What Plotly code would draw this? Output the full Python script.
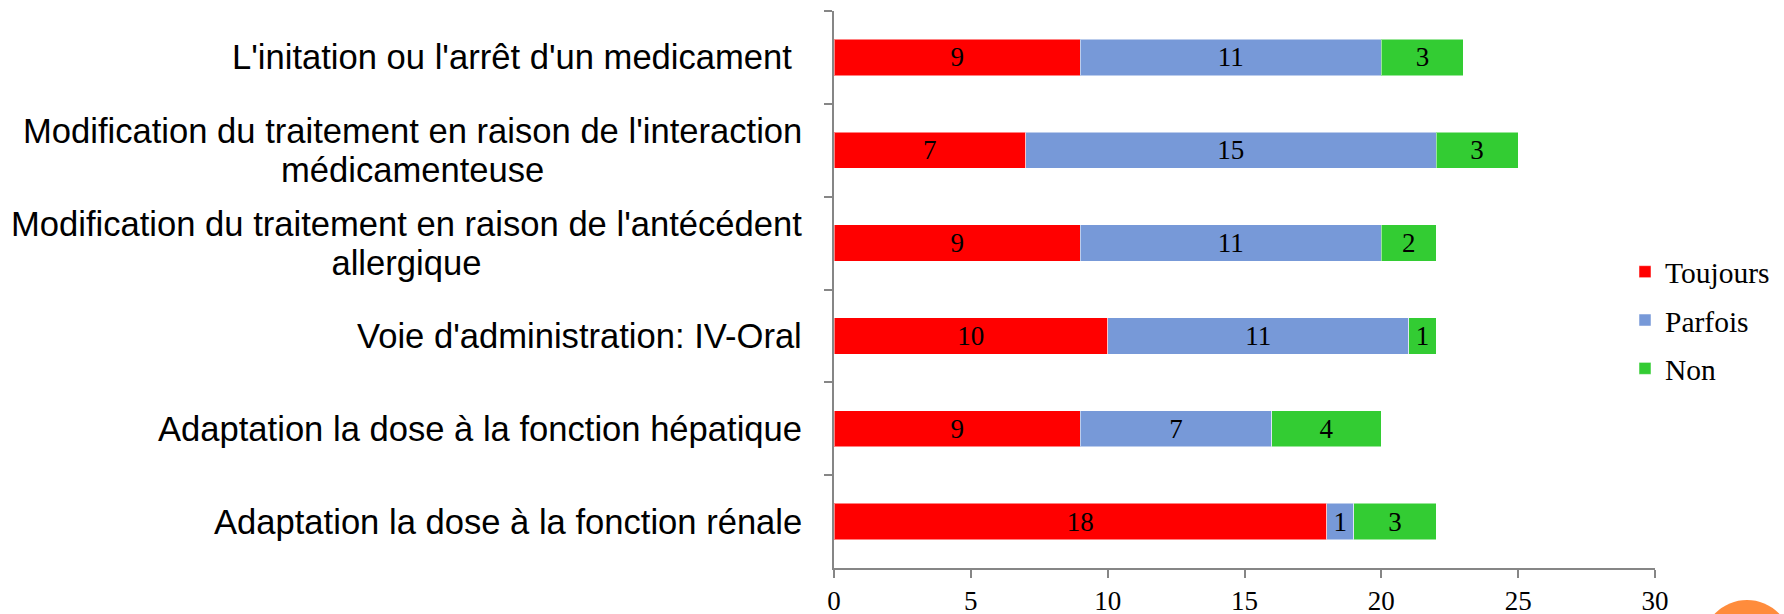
import plotly.graph_objects as go

categories = [
    "L'initation ou l'arrêt d'un medicament\u00a0",
    "Modification du traitement en raison de l'interaction<br>médicamenteuse",
    "Modification du traitement en raison de l'antécédent<br>allergique",
    "Voie d'administration: IV-Oral",
    "Adaptation la dose à la fonction hépatique",
    "Adaptation la dose à la fonction rénale",
]
toujours = [9, 7, 9, 10, 9, 18]
parfois = [11, 15, 11, 11, 7, 1]
non = [3, 3, 2, 1, 4, 3]
series_names = ["Toujours", "Parfois", "Non"]
series_colors = ["#FF0000", "#7799D8", "#33CC33"]
x_ticks = [0, 5, 10, 15, 20, 25, 30]

W, H = 1784, 614
L, R, T, B = 834, 1655, 11, 568
serif = "Liberation Serif, Times New Roman, serif"
sans = "Liberation Sans, Arial, sans-serif"

fig = go.Figure()
for name, vals, col in zip(series_names, [toujours, parfois, non], series_colors):
    fig.add_trace(go.Bar(
        y=categories, x=vals, name=name, orientation="h",
        marker=dict(color=col, line=dict(color="rgba(255,255,255,0.5)", width=1)),
        text=[str(v) for v in vals], textposition="inside", textangle=0,
        insidetextanchor="middle", constraintext="none",
        textfont=dict(family=serif, size=27, color="black"),
        legendgroup=name, hoverinfo="x+name",
    ))

for c in categories:
    label = "<br>".join('<span style="font-size:34.6px">%s</span>' % part
                        for part in c.split("<br>"))
    fig.add_annotation(
        x=0, xref="paper", y=c, yref="y", xanchor="right", yanchor="middle",
        xshift=-30, text=label, showarrow=False, align="center",
        font=dict(family=sans, size=30, color="black"),
    )

def px_x(p):
    return (p - L) / (R - L)

def px_y(p):
    return (B - p) / (B - T)

fig.add_shape(type="circle", xref="paper", yref="paper",
              x0=px_x(1702), x1=px_x(1792), y0=px_y(690), y1=px_y(600),
              fillcolor="#FF8C3C", line=dict(width=0), layer="above")

fig.update_layout(
    width=W, height=H,
    margin=dict(l=L, r=W - R, t=T, b=H - B, autoexpand=False),
    barmode="stack", bargap=0.61,
    plot_bgcolor="white", paper_bgcolor="white",
    showlegend=True,
    legend=dict(x=px_x(1625), xanchor="left", y=px_y(246), yanchor="top",
                font=dict(family=serif, size=29.5, color="black"),
                tracegroupgap=7, bgcolor="rgba(0,0,0,0)", traceorder="grouped"),
    xaxis=dict(range=[0, 30], tickvals=x_ticks, ticks="outside", ticklen=8,
               tickwidth=2, tickcolor="#868686", showline=True, linecolor="#868686",
               linewidth=2, showgrid=False, zeroline=False, ticklabelstandoff=0,
               automargin=False,
               tickfont=dict(family=serif, size=27, color="black")),
    yaxis=dict(autorange="reversed", ticks="outside", ticklen=8, tickwidth=2,
               tickcolor="#868686", tickson="boundaries", showline=True,
               linecolor="#868686", linewidth=2, showgrid=False,
               showticklabels=False, automargin=False),
)

fig.write_html("out.html", config={"displayModeBar": False},
               post_script="document.body.style.margin='0';")
